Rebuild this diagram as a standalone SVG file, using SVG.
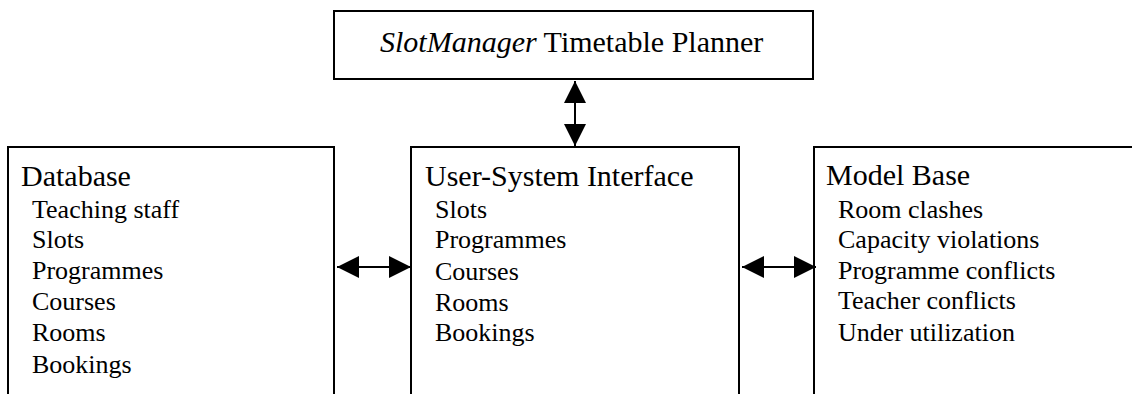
<svg xmlns="http://www.w3.org/2000/svg" width="1132" height="394" viewBox="0 0 1132 394">
<style>
.box{fill:#fff;stroke:#000;stroke-width:2}
.h{font-family:"Liberation Serif","Times New Roman",serif;font-size:30px;fill:#000}
.i{font-family:"Liberation Serif","Times New Roman",serif;font-size:26px;fill:#000}
.c{stroke:#000;stroke-width:2;fill:none}
</style>
<defs>
<marker id="ah" markerUnits="userSpaceOnUse" markerWidth="22" markerHeight="22" viewBox="0 0 20 20" refX="20" refY="10" orient="auto-start-reverse">
<path d="M0,0 L20,10 L0,20 Z" fill="#000"/>
</marker>
</defs>
<rect width="1132" height="394" fill="#fff"/>
<g id="planner">
<rect class="box" x="334" y="11" width="479" height="68"/>
<text class="h" x="380" y="52"><tspan font-style="italic">SlotManager</tspan> Timetable Planner</text>
</g>
<g id="database">
<rect class="box" x="8" y="147" width="326" height="260"/>
<text class="h" x="21" y="186">Database</text>
<text class="i" x="32" y="218">Teaching staff</text>
<text class="i" x="32" y="248">Slots</text>
<text class="i" x="32" y="279">Programmes</text>
<text class="i" x="32" y="310">Courses</text>
<text class="i" x="32" y="341">Rooms</text>
<text class="i" x="32" y="373">Bookings</text>
</g>
<g id="interface">
<rect class="box" x="411" y="147" width="328" height="260"/>
<text class="h" x="425" y="186">User-System Interface</text>
<text class="i" x="435" y="218">Slots</text>
<text class="i" x="435" y="248">Programmes</text>
<text class="i" x="435" y="280">Courses</text>
<text class="i" x="435" y="311">Rooms</text>
<text class="i" x="435" y="341">Bookings</text>
</g>
<g id="modelbase">
<rect class="box" x="814" y="147" width="330" height="260"/>
<text class="h" x="826" y="185">Model Base</text>
<text class="i" x="838" y="218">Room clashes</text>
<text class="i" x="838" y="248">Capacity violations</text>
<text class="i" x="838" y="279">Programme conflicts</text>
<text class="i" x="838" y="309">Teacher conflicts</text>
<text class="i" x="838" y="341">Under utilization</text>
</g>
<g id="connectors">
<line class="c" x1="575" y1="81" x2="575" y2="146" marker-start="url(#ah)" marker-end="url(#ah)"/>
<line class="c" x1="337" y1="267" x2="411" y2="267" marker-start="url(#ah)" marker-end="url(#ah)"/>
<line class="c" x1="742" y1="267" x2="816" y2="267" marker-start="url(#ah)" marker-end="url(#ah)"/>
</g>
</svg>
